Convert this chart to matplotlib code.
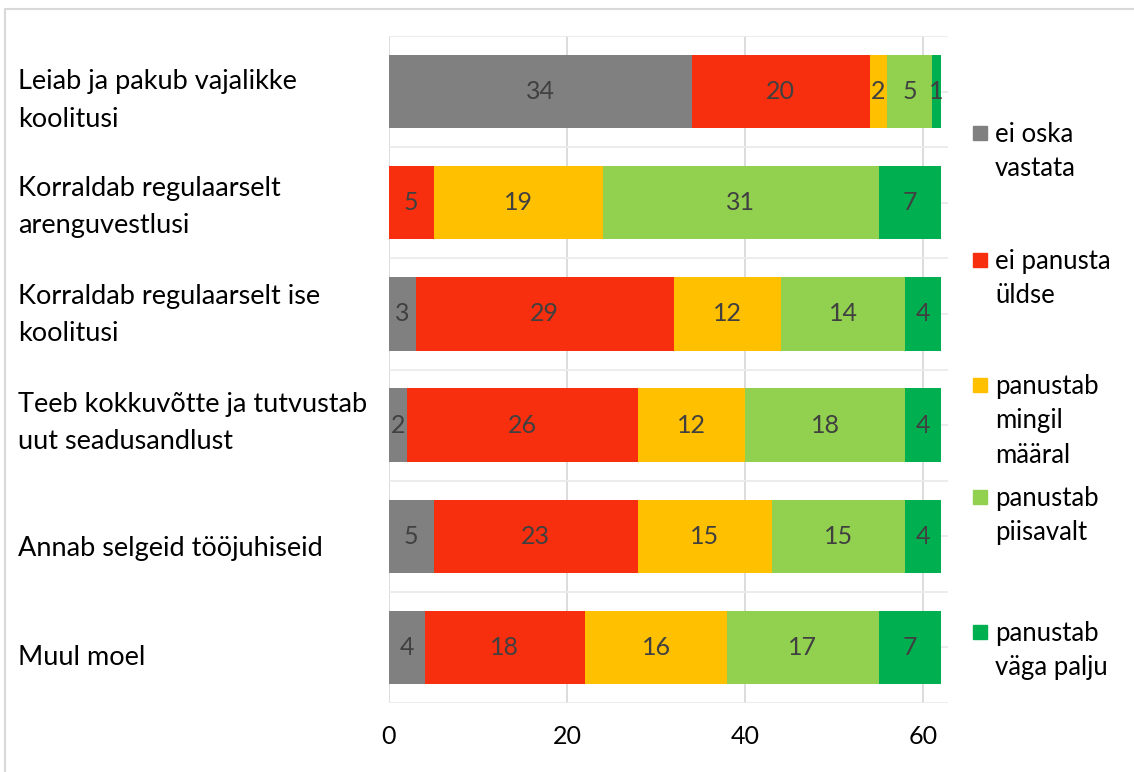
import numpy as np
import matplotlib
matplotlib.use("Agg")
import matplotlib.pyplot as plt
from matplotlib.patches import Rectangle
from matplotlib.transforms import blended_transform_factory

# ── Data ──────────────────────────────────────────────────────────────────────
categories = [
    "Leiab ja pakub vajalikke\nkoolitusi",
    "Korraldab regulaarselt\narenguvestlusi",
    "Korraldab regulaarselt ise\nkoolitusi",
    "Teeb kokkuvõtte ja tutvustab\nuut seadusandlust",
    "Annab selgeid tööjuhiseid",
    "Muul moel",
]
series_names = [
    "ei oska\nvastata",
    "ei panusta\nüldse",
    "panustab\nmingil\nmääral",
    "panustab\npiisavalt",
    "panustab\nväga palju",
]
ei_oska     = [34, 0, 3, 2, 5, 4]
ei_panusta  = [20, 5, 29, 26, 23, 18]
mingil      = [2, 19, 12, 12, 15, 16]
piisavalt   = [5, 31, 14, 18, 15, 17]
vaga_palju  = [1, 7, 4, 4, 4, 7]
series = [ei_oska, ei_panusta, mingil, piisavalt, vaga_palju]
colors = ["#808080", "#F72F0E", "#FFC000", "#92D050", "#00B050"]
x_ticks = [0, 20, 40, 60]

FONT = "Lato"
W, H = 1134, 772

# ── Figure ────────────────────────────────────────────────────────────────────
fig = plt.figure(figsize=(W / 100, H / 100), dpi=100)
ax = fig.add_axes([389 / W, 1 - 703 / H, (948 - 389) / W, (703 - 36) / H])

y = np.arange(len(categories))
left = np.zeros(len(categories))
for vals, col in zip(series, colors):
    vals = np.array(vals, dtype=float)
    bars = ax.barh(y, vals, left=left, height=0.66, color=col, zorder=3)
    for b, v in zip(bars, vals):
        if v > 0:
            ax.text(b.get_x() + b.get_width() / 2, b.get_y() + b.get_height() / 2,
                    f"{int(v)}", ha="center", va="center", fontsize=18,
                    color="#404040", family=FONT, zorder=4)
    left += vals

ax.set_xlim(0, 62.8)
ax.set_ylim(len(categories) - 0.5, -0.5)
ax.set_xticks(x_ticks)
ax.set_xticklabels([str(t) for t in x_ticks], fontsize=18, family=FONT)
ax.tick_params(axis="x", length=0, pad=16)
ax.set_yticks([])
for s in ax.spines.values():
    s.set_visible(False)

# gridlines
for t in x_ticks:
    ax.axvline(t, color="#D9D9D9", lw=1.3, zorder=1)
for yy in np.arange(-0.5, len(categories), 0.5):
    ax.axhline(yy, color="#EBEBEB", lw=1.3, zorder=1)

# category labels, left-aligned (small nudges like Excel's wrapped labels)
label_nudge = [0.08, 0.04, 0.01, -0.02, 0.11, 0.09]
tr = blended_transform_factory(fig.transFigure, ax.transData)
for yi, lab, dy in zip(y, categories, label_nudge):
    ax.text(18 / W, yi + dy, lab, transform=tr, ha="left", va="center",
            fontsize=19.5, family=FONT, color="#000000", linespacing=1.63)

# legend (manual, Excel-like layout)
leg_tops = [133, 260, 385, 497, 632]
for name, col, ty in zip(series_names, colors, leg_tops):
    fig.patches.append(Rectangle((973 / W, 1 - (ty + 7) / H), 14 / W, 14 / H,
                                 transform=fig.transFigure, color=col))
    fig.text(995 / W, 1 - (ty - 11) / H, name, ha="left", va="top",
             fontsize=18.5, family=FONT, color="#000000", linespacing=1.47)

# chart area frame
fig.patches.append(Rectangle((5 / W, -0.01), 1.02, 1 - 9 / H + 0.01,
                             transform=fig.transFigure, fill=False,
                             edgecolor="#D9D9D9", lw=1.5))

fig.savefig("out.png", dpi=100)
